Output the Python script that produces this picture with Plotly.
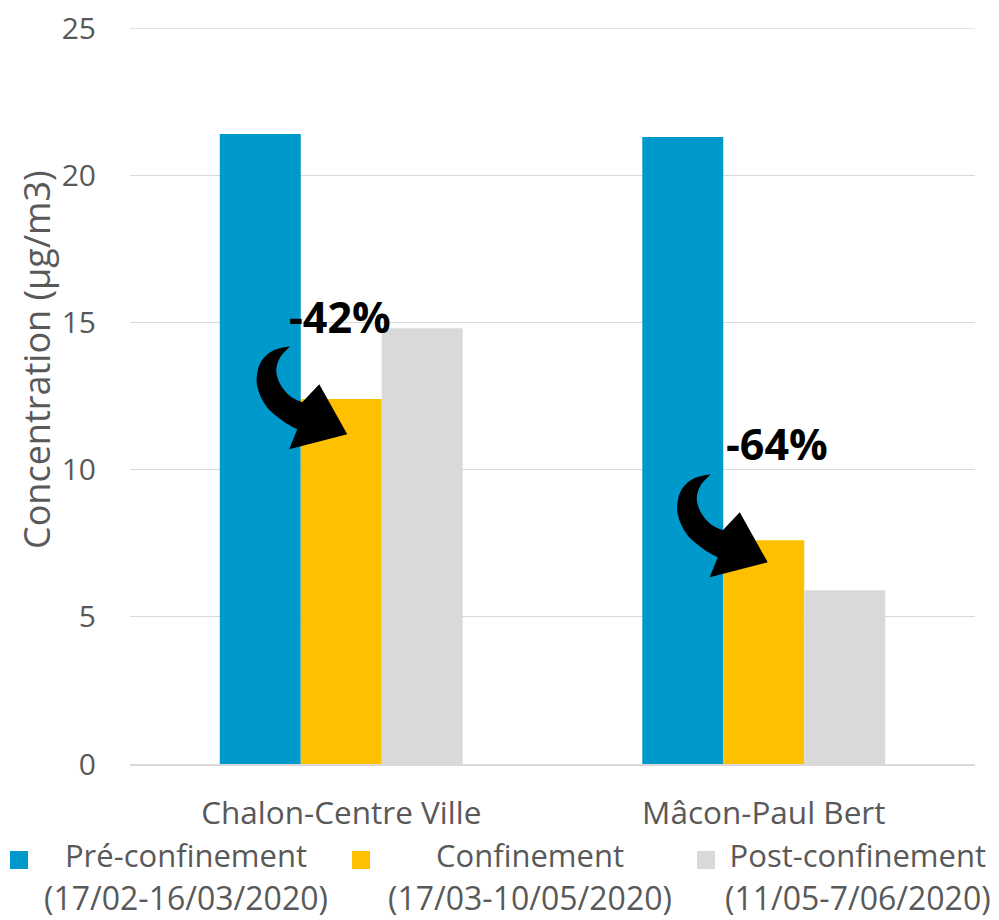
import plotly.graph_objects as go

# Mean NO2 concentrations per station and period
stations = ["Chalon-Centre Ville", "Mâcon-Paul Bert"]
pre_lockdown = [21.4, 21.3]
lockdown = [12.4, 7.6]
post_lockdown = [14.8, 5.9]

series_names = ["Pré-confinement", "Confinement", "Post-confinement"]
series_periods = ["(17/02-16/03/2020)", "(17/03-10/05/2020)", "(11/05-7/06/2020)"]
series_colors = ["#0099CC", "#FFC000", "#D9D9D9"]

y_ticks = [0, 5, 10, 15, 20, 25]

FONT = "Open Sans"
TEXT_GREY = "#595959"
GRID = "#D9D9D9"

# Plot area geometry (pixels)
FIG_W, FIG_H = 999, 920
M_L, M_R, M_T, M_B = 130, 24, 28, 156
PW = FIG_W - M_L - M_R
PH = FIG_H - M_T - M_B
X_RANGE = [-0.5, len(stations) - 0.5]
Y_RANGE = [0, 25]


def to_paper(cat, y, dx=0.0, dy=0.0):
    """Data position (category index, value) plus a pixel offset -> paper coords."""
    xp = (cat - X_RANGE[0]) / (X_RANGE[1] - X_RANGE[0]) + dx / PW
    yp = (y - Y_RANGE[0]) / (Y_RANGE[1] - Y_RANGE[0]) - dy / PH
    return xp, yp


def px_to_paper(px, py):
    return (px - M_L) / PW, (M_T + PH - py) / PH


fig = go.Figure()
for name, vals, col in zip(series_names, [pre_lockdown, lockdown, post_lockdown], series_colors):
    fig.add_trace(go.Bar(x=stations, y=vals, name=name, marker=dict(color=col, line=dict(width=0)),
                         showlegend=False))

# Gridline along the top of the value range (plotly skips grid lines on the axis ends)
fig.add_shape(type="line", xref="paper", yref="y", x0=0, x1=1, y0=Y_RANGE[1], y1=Y_RANGE[1],
              line=dict(color=GRID, width=1.3), layer="below")

# Curved arrow outline, pixel offsets from the arrow head tip (x right, y down)
ARROW_OUTER = [(-57, -88), (-71, -85), (-82, -78), (-89, -66), (-90, -48), (-81, -28), (-64, -13), (-50, -5)]
ARROW_HEAD = [(-58, 15), (0, 0), (-28, -50)]
ARROW_INNER = [(-45, -32), (-57, -38), (-67, -50), (-71, -64), (-67, -77), (-57, -88)]


def smooth(points):
    """Catmull-Rom spline through the points as SVG cubic segments."""
    segs = []
    n = len(points)
    for i in range(n - 1):
        p0 = points[i - 1] if i > 0 else points[i]
        p1 = points[i]
        p2 = points[i + 1]
        p3 = points[i + 2] if i + 2 < n else points[i + 1]
        c1 = (p1[0] + (p2[0] - p0[0]) / 6, p1[1] + (p2[1] - p0[1]) / 6)
        c2 = (p2[0] - (p3[0] - p1[0]) / 6, p2[1] - (p3[1] - p1[1]) / 6)
        segs.append((c1, c2, p2))
    return segs


def arrow_path(cat, y_tip, x_shift):
    def pt(p):
        x, y = to_paper(cat, y_tip, p[0] + x_shift, p[1])
        return f"{x:.5f},{y:.5f}"

    d = "M" + pt(ARROW_OUTER[0])
    for c1, c2, p in smooth(ARROW_OUTER):
        d += f" C{pt(c1)} {pt(c2)} {pt(p)}"
    for p in ARROW_HEAD:
        d += " L" + pt(p)
    d += " L" + pt(ARROW_INNER[0])
    for c1, c2, p in smooth(ARROW_INNER):
        d += f" C{pt(c1)} {pt(c2)} {pt(p)}"
    return d + " Z"


# Arrow tips: (category index, y value, pixel shift)
arrow_tips = [(0, 11.2, 6), (1, 6.85, 4)]
for cat, y_tip, xs in arrow_tips:
    fig.add_shape(type="path", path=arrow_path(cat, y_tip, xs), xref="paper", yref="paper",
                  fillcolor="black", line=dict(width=0), layer="above")

# Reduction labels computed from the lockdown vs pre-lockdown values
label_pos = [(0, 15.2, -1), (1, 10.9, 13)]
for (cat, y_lab, xs), before, during in zip(label_pos, pre_lockdown, lockdown):
    pct = round((during / before - 1) * 100)
    xp, yp = to_paper(cat, y_lab, xs)
    fig.add_annotation(x=xp, y=yp, xref="paper", yref="paper", text=f"<b>{pct}%</b>",
                       showarrow=False, xanchor="center", yanchor="middle",
                       font=dict(family=FONT, size=43, color="black"))

# Y axis title
tx, ty = px_to_paper(36, 360)
fig.add_annotation(x=tx, y=ty, xref="paper", yref="paper",
                   text="Concentration (µg/m3)", textangle=-90, showarrow=False,
                   xanchor="center", yanchor="middle",
                   font=dict(family=FONT, size=36, color=TEXT_GREY))

# Legend below the chart: swatch + two centred lines per series
legend_swatch_x = [10, 352, 697]
legend_text_x = [186, 530, 858]
for sx, cx, name, period, col in zip(legend_swatch_x, legend_text_x, series_names, series_periods, series_colors):
    x0, y0 = px_to_paper(sx, 869)
    x1, y1 = px_to_paper(sx + 18, 851)
    fig.add_shape(type="rect", xref="paper", yref="paper", x0=x0, x1=x1, y0=y0, y1=y1,
                  fillcolor=col, line=dict(width=0))
    ax_, ay_ = px_to_paper(cx, 876)
    fig.add_annotation(x=ax_, y=ay_, xref="paper", yref="paper",
                       text=(f'<span style="font-size:31px">{name}</span><br>'
                             f'<span style="font-size:32px">{period}</span>'),
                       showarrow=False, xanchor="center", yanchor="middle", align="center",
                       font=dict(family=FONT, size=33, color=TEXT_GREY))

fig.update_layout(
    width=FIG_W, height=FIG_H,
    margin=dict(l=M_L, r=M_R, t=M_T, b=M_B, autoexpand=False),
    paper_bgcolor="white", plot_bgcolor="white",
    barmode="group", bargap=0.425, bargroupgap=0,
    font=dict(family=FONT, color=TEXT_GREY),
    showlegend=False,
)
fig.update_xaxes(range=X_RANGE, showgrid=False, showline=True, linecolor=GRID, linewidth=1.5,
                 ticks="", tickfont=dict(family=FONT, size=31.5, color=TEXT_GREY),
                 ticklabelstandoff=20, automargin=False, fixedrange=True)
fig.update_yaxes(range=Y_RANGE, tickvals=y_ticks, showgrid=True, gridcolor=GRID, gridwidth=1.3,
                 zeroline=False, showline=False, ticks="",
                 tickfont=dict(family=FONT, size=30, color=TEXT_GREY),
                 ticklabelstandoff=33, automargin=False, fixedrange=True)

fig.write_html("out.html")
